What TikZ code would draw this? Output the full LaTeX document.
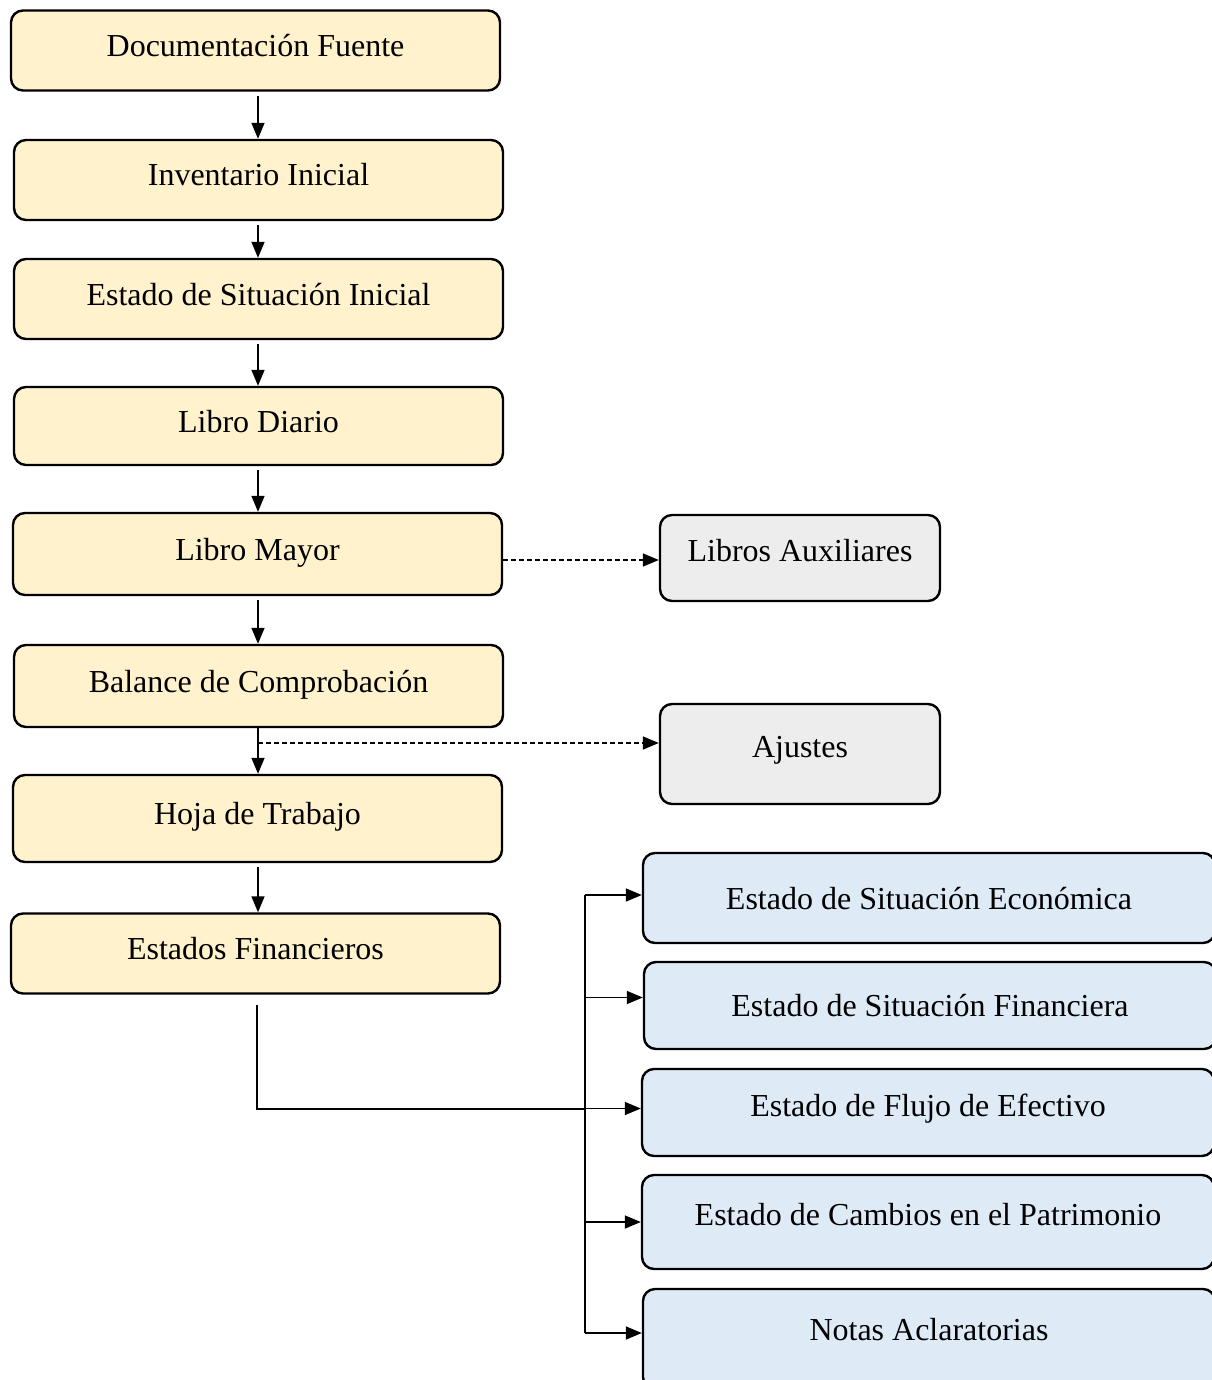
\documentclass[tikz,border=0pt]{standalone}
\usepackage{fontspec}
\setmainfont{Liberation Serif}
\usetikzlibrary{arrows.meta}
\definecolor{pasofill}{HTML}{FFF2CC}
\definecolor{extrafill}{HTML}{EDEDED}
\definecolor{estadofill}{HTML}{DEEBF7}
\begin{document}
\begin{tikzpicture}[x=1pt, y=-1pt,
    every node/.style={draw, rounded corners=12pt, line width=2.4pt, inner sep=0pt, font=\fontsize{32}{38}\selectfont},
    paso/.style={fill=pasofill, minimum width=489pt, minimum height=80pt, text height=24pt, text depth=12pt},
    extra/.style={fill=extrafill, minimum width=280pt, minimum height=86pt, text height=24pt, text depth=18pt},
    estado/.style={fill=estadofill, minimum width=572pt, minimum height=90pt, text height=24pt, text depth=2pt},
    flecha/.style={-{Triangle[length=16pt,width=13pt]}, line width=1.5pt},
    baja/.style={flecha, shorten <=4pt}]
    \useasboundingbox (0,0) rectangle (1211,1380);

    \node[paso] (doc) at (255.5,50.5) {Documentación Fuente};
    \node[paso] (inv) at (258.5,180) {Inventario Inicial};
    \node[paso] (esi) at (258.5,299) {Estado de Situación Inicial};
    \node[paso, minimum height=78pt] (dia) at (258.5,426) {Libro Diario};
    \node[paso, minimum height=82pt] (may) at (257.5,554) {Libro Mayor};
    \node[paso, minimum height=82pt] (bal) at (258.5,686) {Balance de Comprobación};
    \node[paso, minimum height=87pt] (hoj) at (257.5,818.5) {Hoja de Trabajo};
    \node[paso] (ef) at (255.5,953.5) {Estados Financieros};

    \node[extra] (aux) at (800,558) {Libros Auxiliares};
    \node[extra, minimum height=100pt] (aju) at (800,754) {Ajustes};

    \node[estado] (eco) at (929,898) {Estado de Situación Económica};
    \node[estado, minimum height=87pt] (fin) at (930,1005.5) {Estado de Situación Financiera};
    \node[estado, minimum height=87pt, text depth=16pt] (flu) at (928,1112.5) {Estado de Flujo de Efectivo};
    \node[estado, minimum height=94pt, text depth=18pt] (cam) at (928,1222) {Estado de Cambios en el Patrimonio};
    \node[estado, minimum height=100pt, text depth=22pt] (notas) at (929,1339) {Notas Aclaratorias};

    \coordinate (ejex) at (258,0);
    \coordinate (ajdash) at (258,743);
    \coordinate (efbaja) at (257,1005);
    \coordinate (codo) at (257,1109);
    \coordinate (bus) at (585,895);

    \draw[baja] (ejex |- doc.south) -- (ejex |- inv.north);
    \draw[baja] (ejex |- inv.south) -- (ejex |- esi.north);
    \draw[baja] (ejex |- esi.south) -- (ejex |- dia.north);
    \draw[baja] (ejex |- dia.south) -- (ejex |- may.north);
    \draw[baja] (ejex |- may.south) -- (ejex |- bal.north);
    \draw[flecha] (ejex |- bal.south) -- (ejex |- hoj.north);
    \draw[baja] (ejex |- hoj.south) -- (ejex |- ef.north);

    \draw[flecha, dash pattern=on 5pt off 3pt] ([yshift=-6pt]may.east) -- ([yshift=-6pt]may.east -| aux.west);
    \draw[flecha, dash pattern=on 5pt off 3pt] (ajdash) -- (ajdash -| aju.west);

    \draw[line width=1.5pt] (efbaja) -- (codo) -- (codo -| bus);
    \draw[line width=1.5pt] (bus) -- ([yshift=6pt]bus |- notas.west);
    \foreach \n/\d in {eco/3,fin/8,flu/4,cam/0,notas/6}
        \draw[flecha] ([yshift=\d pt]bus |- \n.west) -- ([yshift=\d pt]\n.west);
\end{tikzpicture}
\end{document}
